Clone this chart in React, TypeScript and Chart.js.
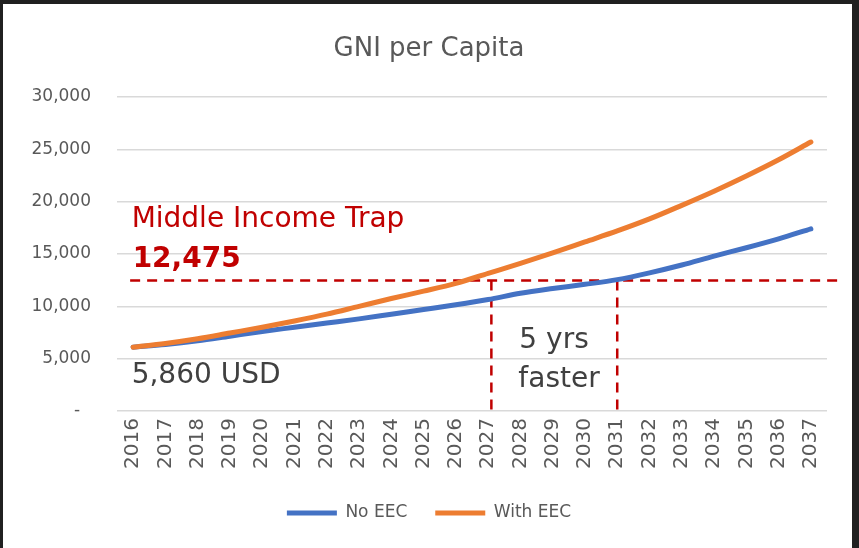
import React, { useEffect, useRef } from 'react';
import { Chart, registerables } from 'chart.js';

Chart.register(...registerables);

const years = ['2016', '2017', '2018', '2019', '2020', '2021', '2022', '2023', '2024', '2025', '2026',
  '2027', '2028', '2029', '2030', '2031', '2032', '2033', '2034', '2035', '2036', '2037'];
const noEEC = [6100, 6350, 6700, 7150, 7600, 8000, 8400, 8800, 9250, 9700, 10150,
  10650, 11250, 11700, 12100, 12550, 13200, 13950, 14800, 15600, 16450, 17400];
const withEEC = [6100, 6450, 6900, 7450, 8000, 8600, 9250, 10000, 10750, 11450, 12200,
  13150, 14100, 15100, 16150, 17200, 18350, 19650, 21000, 22450, 24000, 25700];
const seriesNames = ['No EEC', 'With EEC'];
const yMax = 30000;
const yStep = 5000;
const trapValue = 12475;
const trapTitle = 'Middle Income Trap';
const startText = '5,860 USD';
const crossYears = [2027.1, 2031];
const gapText = ['5 yrs', 'faster'];
const chartTitle = 'GNI per Capita';

const BLUE = '#4472C4';
const ORANGE = '#ED7D31';
const RED = '#C00000';
const GRAY = '#595959';
const DARK = '#404040';
const FONT = '"DejaVu Sans", sans-serif';

export default function App() {
  const ref = useRef<HTMLCanvasElement | null>(null);

  useEffect(() => {
    if (!ref.current) return;
    const overlay = {
      id: 'overlay',
      beforeDatasetsDraw(chart: any) {
        const { ctx, chartArea, scales } = chart;
        const x = scales.x;
        const y = scales.y;
        const ty = y.getPixelForValue(trapValue);
        const x0 = x.getPixelForValue(0);
        ctx.save();
        ctx.strokeStyle = RED;
        ctx.lineWidth = 2.5;
        ctx.setLineDash([10, 7]);
        ctx.beginPath();
        ctx.moveTo(x0 - 3, ty);
        ctx.lineTo(chartArea.right + 13, ty);
        ctx.stroke();
        crossYears.forEach((cy) => {
          const px = x.getPixelForValue(cy - Number(years[0]));
          ctx.beginPath();
          ctx.moveTo(px, ty);
          ctx.lineTo(px, chartArea.bottom + 1);
          ctx.stroke();
        });
        ctx.restore();
      },
      afterDatasetsDraw(chart: any) {
        const { ctx, chartArea, scales } = chart;
        const x = scales.x;
        const y = scales.y;
        const ty = y.getPixelForValue(trapValue);
        const x0 = x.getPixelForValue(0) - 1.5;
        ctx.save();
        ctx.textAlign = 'left';
        ctx.textBaseline = 'alphabetic';
        ctx.fillStyle = RED;
        ctx.font = `28px ${FONT}`;
        ctx.fillText(trapTitle, x0, ty - 53.7);
        ctx.font = `bold 28px ${FONT}`;
        ctx.fillText(trapValue.toLocaleString('en-US'), x0 + 1, ty - 13.7);
        ctx.fillStyle = DARK;
        ctx.font = `28px ${FONT}`;
        ctx.fillText(startText, x0, chartArea.bottom - 27.7);
        const p1 = x.getPixelForValue(crossYears[0] - Number(years[0]));
        ctx.fillText(gapText[0], p1 + 28, chartArea.bottom - 62.7);
        ctx.fillText(gapText[1], p1 + 27, chartArea.bottom - 24.3);
        ctx.restore();
      },
    };

    const chart = new Chart(ref.current, {
      type: 'line',
      data: {
        labels: years,
        datasets: [
          {
            label: seriesNames[0],
            data: noEEC,
            borderColor: BLUE,
            backgroundColor: BLUE,
            borderWidth: 5,
            pointRadius: 0,
            borderCapStyle: 'round',
            borderJoinStyle: 'round',
            cubicInterpolationMode: 'monotone',
            fill: false,
            order: 1,
          },
          {
            label: seriesNames[1],
            data: withEEC,
            borderColor: ORANGE,
            backgroundColor: ORANGE,
            borderWidth: 5,
            pointRadius: 0,
            borderCapStyle: 'round',
            borderJoinStyle: 'round',
            cubicInterpolationMode: 'monotone',
            fill: false,
            order: 0,
          },
        ],
      },
      options: {
        responsive: false,
        devicePixelRatio: 1,
        animation: false,
        layout: { padding: { top: 19.5, right: 25, bottom: 16.5, left: 28 } },
        plugins: {
          title: {
            display: true,
            text: chartTitle,
            color: GRAY,
            font: { family: FONT, size: 26, weight: 'normal' },
            padding: { top: 10, bottom: 32.3 },
          },
          legend: {
            position: 'bottom',
            labels: {
              boxWidth: 50,
              boxHeight: 5,
              padding: 28,
              color: GRAY,
              font: { family: FONT, size: 17 },
              sort: (a: any, b: any) => a.datasetIndex - b.datasetIndex,
              generateLabels: (c: any) =>
                (Chart.defaults.plugins.legend.labels as any).generateLabels(c).map((l: any) => ({
                  ...l,
                  lineWidth: 0,
                  fillStyle: l.strokeStyle,
                })),
            },
          },
          tooltip: { enabled: false },
        },
        scales: {
          x: {
            offset: true,
            grid: { display: false, drawTicks: false },
            border: { display: false },
            ticks: {
              autoSkip: false,
              minRotation: 90,
              maxRotation: 90,
              padding: 7,
              color: GRAY,
              font: { family: FONT, size: 20 },
            },
            afterFit: (s: any) => { s.height = 65.5; },
          },
          y: {
            min: 0,
            max: yMax,
            grid: { color: '#D9D9D9', lineWidth: 1.5, drawTicks: false },
            border: { display: false },
            ticks: {
              stepSize: yStep,
              padding: 26,
              color: GRAY,
              font: { family: FONT, size: 17 },
              callback: (v: any) => (Number(v) === 0 ? '-  ' : Number(v).toLocaleString('en-US')),
            },
            afterFit: (s: any) => { s.width = 86; },
          },
        },
      },
      plugins: [overlay],
    } as any);
    return () => chart.destroy();
  }, []);

  return (
    <div style={{ position: 'fixed', inset: 0, background: '#202020' }}>
      <div style={{ position: 'absolute', left: 3, top: 4, width: 849, height: 544, background: '#ffffff' }}>
        <canvas ref={ref} width={849} height={544} style={{ display: 'block' }} />
      </div>
    </div>
  );
}
